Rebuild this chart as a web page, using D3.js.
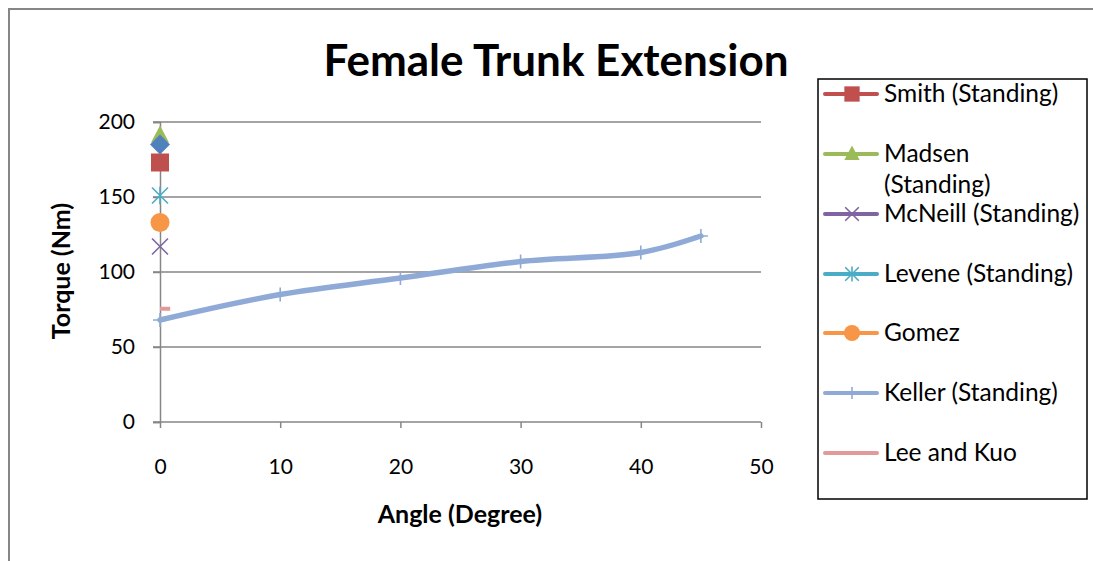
<!DOCTYPE html>
<html><head><meta charset="utf-8">
<script src="https://cdn.jsdelivr.net/npm/d3@7"></script>
<style>body{margin:0;background:#fff}svg{display:block}text{font-family:Lato,"Open Sans",sans-serif}</style>
</head><body><svg id="c" width="1093" height="561"></svg>
<script>
const title = "Female Trunk Extension";
const xTicks = [0,10,20,30,40,50];
const yTicks = [0,50,100,150,200];
const kellerX = [0,10,20,30,40,45];
const kellerY = [68,85,96,107,113,124];
const singleNames = ["(unnamed)","Madsen (Standing)","Smith (Standing)","Levene (Standing)","Gomez","McNeill (Standing)"];
const singleY = [185,191,173,151,133,117];
const leeX = [0,0.85];
const leeY = [75.5,75.5];
const legendNames = ["Smith (Standing)","Madsen (Standing)","McNeill (Standing)","Levene (Standing)","Gomez","Keller (Standing)","Lee and Kuo"];

const colors = {"(unnamed)":"#4F81BD","Smith (Standing)":"#C0504D","Madsen (Standing)":"#9BBB59","McNeill (Standing)":"#8064A2","Levene (Standing)":"#4BACC6","Gomez":"#F79646","Keller (Standing)":"#8FAAD6","Lee and Kuo":"#E09A9A"};
const shapes = {"(unnamed)":"diamond","Smith (Standing)":"square","Madsen (Standing)":"triangle","McNeill (Standing)":"x","Levene (Standing)":"star","Gomez":"circle","Keller (Standing)":"plus","Lee and Kuo":"none"};

const svg = d3.select("#c");
svg.append("rect").attr("x",9).attr("y",9).attr("width",1200).attr("height",700).attr("fill","#fff").attr("stroke","#868686").attr("stroke-width",2);

const x = d3.scaleLinear().domain([0,50]).range([160,761]);
const y = d3.scaleLinear().domain([0,200]).range([422,122]);

// gridlines
svg.append("g").selectAll("line").data(yTicks.filter(d=>d>0)).join("line")
  .attr("x1",153).attr("x2",761).attr("y1",d=>y(d)).attr("y2",d=>y(d))
  .attr("stroke","#868686").attr("stroke-width",1.5);

const yAxis = svg.append("g").attr("transform","translate(160,0)")
  .call(d3.axisLeft(y).tickValues(yTicks).tickSize(7).tickPadding(18).tickFormat(d3.format("d")));
const xAxis = svg.append("g").attr("transform","translate(0,422)")
  .call(d3.axisBottom(x).tickValues(xTicks).tickSize(6).tickPadding(31).tickFormat(d3.format("d")));
[yAxis,xAxis].forEach(a=>{
  a.select(".domain").attr("stroke","#868686").attr("stroke-width",1.5);
  a.selectAll(".tick line").attr("stroke","#868686").attr("stroke-width",1.5);
  a.selectAll("text").attr("font-size",21).attr("fill","#000").attr("font-family","Lato, sans-serif");
});
xAxis.select(".domain").attr("d","M153,0H761");

function marker(g, shape, color, cx, cy, s){
  const sz = s||1;
  if(shape==="diamond"){
    g.append("path").attr("d",`M${cx},${cy-10*sz}L${cx+10*sz},${cy}L${cx},${cy+10*sz}L${cx-10*sz},${cy}Z`).attr("fill",color);
  } else if(shape==="square"){
    g.append("rect").attr("x",cx-9*sz).attr("y",cy-9*sz).attr("width",18*sz).attr("height",18*sz).attr("fill",color);
  } else if(shape==="triangle"){
    g.append("path").attr("d",`M${cx},${cy-10*sz}L${cx+9*sz},${cy+7*sz}L${cx-9*sz},${cy+7*sz}Z`).attr("fill",color);
  } else if(shape==="circle"){
    g.append("circle").attr("cx",cx).attr("cy",cy).attr("r",9.5*sz).attr("fill",color);
  } else if(shape==="x"){
    const r=8*sz;
    g.append("path").attr("d",`M${cx-r},${cy-r}L${cx+r},${cy+r}M${cx-r},${cy+r}L${cx+r},${cy-r}`).attr("stroke",color).attr("stroke-width",1.6);
  } else if(shape==="star"){
    const r=8*sz;
    g.append("path").attr("d",`M${cx-r},${cy-r}L${cx+r},${cy+r}M${cx-r},${cy+r}L${cx+r},${cy-r}M${cx},${cy-r*1.1}L${cx},${cy+r*1.1}`).attr("stroke",color).attr("stroke-width",1.6);
  } else if(shape==="plus"){
    const r=7*sz;
    g.append("path").attr("d",`M${cx-r},${cy}L${cx+r},${cy}M${cx},${cy-r}L${cx},${cy+r}`).attr("stroke",color).attr("stroke-width",1.6);
  }
}

// Keller line
const kd = kellerX.map((v,i)=>[v,kellerY[i]]);
svg.append("path").datum(kd).attr("fill","none").attr("stroke",colors["Keller (Standing)"]).attr("stroke-width",5.5).attr("stroke-linecap","round")
  .attr("d",d3.line().x(d=>x(d[0])).y(d=>y(d[1])).curve(d3.curveCatmullRom.alpha(0.5)));
const mk = svg.append("g");
kd.forEach(d=>marker(mk,"plus",colors["Keller (Standing)"],x(d[0]),y(d[1])));

// Lee and Kuo
const ld = leeX.map((v,i)=>[v,leeY[i]]);
svg.append("path").datum(ld).attr("fill","none").attr("stroke",colors["Lee and Kuo"]).attr("stroke-width",4)
  .attr("d",d3.line().x(d=>x(d[0])).y(d=>y(d[1])));

// single points at 0
const order = [5,4,3,2,1,0];
const sg = svg.append("g");
order.forEach(i=>{ const n=singleNames[i]; marker(sg,shapes[n],colors[n],x(0),y(singleY[i])); });

// title
svg.append("text").attr("x",556).attr("y",76).attr("text-anchor","middle").attr("font-size",44).attr("font-weight","bold").text(title);
svg.append("text").attr("transform","translate(70,271) rotate(-90)").attr("text-anchor","middle").attr("font-size",25).attr("font-weight","bold").text("Torque (Nm)");
svg.append("text").attr("x",460).attr("y",523).attr("text-anchor","middle").attr("font-size",25).attr("font-weight","bold").text("Angle (Degree)");

// legend
svg.append("rect").attr("x",818).attr("y",79).attr("width",269).attr("height",420).attr("fill","#fff").attr("stroke","#000").attr("stroke-width",1.5);
const rowsY = [94,154,214,274,333,393,453];
const lg = svg.append("g");
legendNames.forEach((n,i)=>{
  const cy = rowsY[i];
  lg.append("line").attr("x1",825).attr("x2",877).attr("y1",cy).attr("y2",cy).attr("stroke",colors[n]).attr("stroke-width",4).attr("stroke-linecap","round");
  marker(lg,shapes[n],colors[n],852,cy,0.85);
  if(n==="Madsen (Standing)"){
    const t = lg.append("text").attr("x",884).attr("y",cy+8).attr("font-size",24.5);
    t.append("tspan").attr("x",884).text("Madsen");
    t.append("tspan").attr("x",884).attr("dy",31).text("(Standing)");
  } else {
    lg.append("text").attr("x",884).attr("y",cy+8).attr("font-size",24.5).text(n);
  }
});
</script></body></html>
